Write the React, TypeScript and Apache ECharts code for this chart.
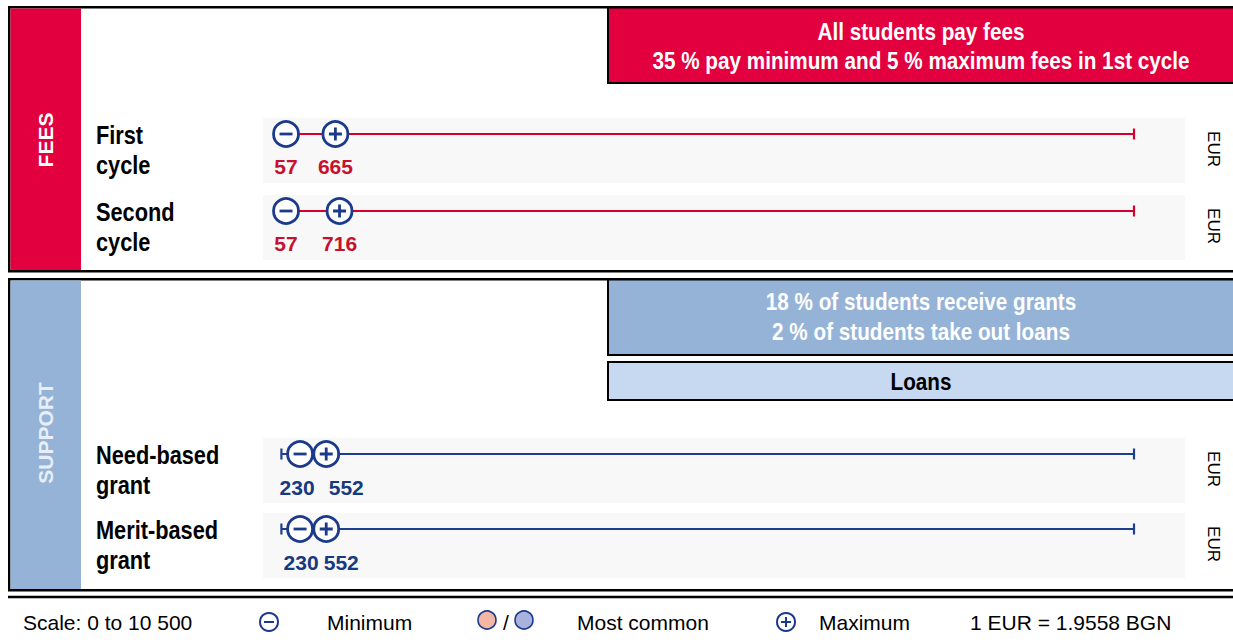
import React, { useEffect, useRef } from 'react';
import * as echarts from 'echarts';

// ---------- DATA ----------
const categories = ['First\ncycle', 'Second\ncycle', 'Need-based\ngrant', 'Merit-based\ngrant'];
const minimums = [57, 57, 230, 230];
const maximums = [665, 716, 552, 552];
const scaleRange = [0, 10500];
const rowSection = [0, 0, 1, 1];
const units = ['EUR', 'EUR', 'EUR', 'EUR'];
const sectionTitles = ['FEES', 'SUPPORT'];
const feesNote = ['All students pay fees', '35 % pay minimum and 5 % maximum fees in 1st cycle'];
const supportNote = ['18 % of students receive grants', '2 % of students take out loans'];
const loansLabel = 'Loans';
const legendTexts = ['Scale: 0 to 10 500', 'Minimum', 'Most common', 'Maximum', '1 EUR = 1.9558 BGN'];

// ---------- LAYOUT / STYLE ----------
const W = 1233;
const H = 642;
const rowY = [134, 211, 454, 529];
const labelOffsets = [
  [[0, 32], [0, 32]],
  [[0, 32], [0, 32]],
  [[-3, 33], [20, 33]],
  [[1, 33], [15, 33]],
];
const SANS = '"Liberation Sans", Arial, sans-serif';
const RED = '#e2003f';
const LINE_RED = '#d6002e';
const NAVY = '#1b3a8c';
const LINE_NAVY = '#1c3f8e';
const LABEL_RED = '#c8102e';
const LABEL_NAVY = '#17397f';
const BLUE = '#95b3d7';
const LIGHT_BLUE = '#c6d9f1';
const sectionColors = [RED, BLUE];
const sectionTextColors = ['#ffffff', '#e8eef7'];
const lineColors = [LINE_RED, LINE_NAVY];
const valueColors = [LABEL_RED, LABEL_NAVY];

const PLUS_PATH = 'path://M0,5.1H13V7.9H0Z M5.1,0H7.9V13H5.1Z';

function buildOption(): any {
  const grids: any[] = [];
  const xAxes: any[] = [];
  const yAxes: any[] = [];
  const series: any[] = [];

  categories.forEach((_, i) => {
    const sec = rowSection[i];
    grids.push({ left: 281.4, width: 852.6, top: rowY[i] - 10, height: 20, containLabel: false });
    xAxes.push({ type: 'value', gridIndex: i, min: scaleRange[0], max: scaleRange[1], show: false });
    yAxes.push({ type: 'value', gridIndex: i, min: 0, max: 1, show: false });
    const common = { xAxisIndex: i, yAxisIndex: i, silent: true, emphasis: { disabled: true }, animation: false };
    series.push({
      ...common,
      type: 'line',
      data: scaleRange.map((v) => [v, 0.5]),
      symbol: 'none',
      lineStyle: { color: lineColors[sec], width: 2.2 },
      z: 1,
    });
    series.push({
      ...common,
      type: 'scatter',
      data: scaleRange.map((v) => [v, 0.5]),
      symbol: 'rect',
      symbolSize: [2.2, 11],
      itemStyle: { color: lineColors[sec], opacity: 1 },
      z: 2,
    });
    const valueLabel = (v: number, off: number[]) => ({
      show: true,
      position: 'inside',
      offset: off,
      formatter: String(v),
      color: valueColors[sec],
      fontSize: 21,
      fontWeight: 'bold',
      fontFamily: SANS,
    });
    series.push({
      ...common,
      type: 'scatter',
      data: [[minimums[i], 0.5]],
      symbol: 'circle',
      symbolSize: 25,
      itemStyle: { color: '#ffffff', borderColor: NAVY, borderWidth: 2.8, opacity: 1 },
      label: valueLabel(minimums[i], labelOffsets[i][0]),
      z: 3,
    });
    series.push({
      ...common,
      type: 'scatter',
      data: [[minimums[i], 0.5]],
      symbol: 'rect',
      symbolSize: [13, 2.8],
      itemStyle: { color: NAVY, opacity: 1 },
      z: 4,
    });
    series.push({
      ...common,
      type: 'scatter',
      data: [[maximums[i], 0.5]],
      symbol: 'circle',
      symbolSize: 25,
      itemStyle: { color: '#ffffff', borderColor: NAVY, borderWidth: 2.8, opacity: 1 },
      label: valueLabel(maximums[i], labelOffsets[i][1]),
      z: 3,
    });
    series.push({
      ...common,
      type: 'scatter',
      data: [[maximums[i], 0.5]],
      symbol: PLUS_PATH,
      symbolSize: 13,
      itemStyle: { color: NAVY, opacity: 1 },
      z: 4,
    });
  });

  const g: any[] = [];
  const panels = [
    { y: 7, h: 264 },
    { y: 279, h: 311 },
  ];
  panels.forEach((p, s) => {
    g.push({ type: 'rect', z: 0, shape: { x: 9.25, y: p.y + 0.25, width: 1240, height: p.h }, style: { fill: '#ffffff', stroke: '#000', lineWidth: 2.5 } });
    g.push({ type: 'rect', z: 0, shape: { x: 10.5, y: p.y + 1.5, width: 70.5, height: p.h - 2.5 }, style: { fill: sectionColors[s] } });
    g.push({
      type: 'text', z: 5, x: 45, y: s === 0 ? 140 : 433, rotation: Math.PI / 2,
      style: { text: sectionTitles[s], fill: sectionTextColors[s], font: `bold 21px ${SANS}`, align: 'center', verticalAlign: 'middle' },
    });
  });
  const headFont = `bold 23px ${SANS}`;
  g.push({ type: 'rect', z: 0, shape: { x: 608, y: 7.5, width: 640, height: 75.5 }, style: { fill: RED, stroke: '#000', lineWidth: 2 } });
  feesNote.forEach((t, k) => g.push({ type: 'text', z: 5, x: 921, y: 32 + k * 29, scaleX: 0.9, style: { text: t, fill: '#fff', font: headFont, align: 'center', verticalAlign: 'middle' } }));
  g.push({ type: 'rect', z: 0, shape: { x: 608, y: 279.5, width: 640, height: 75.5 }, style: { fill: BLUE, stroke: '#000', lineWidth: 2 } });
  supportNote.forEach((t, k) => g.push({ type: 'text', z: 5, x: 921, y: 302 + k * 30, scaleX: 0.9, style: { text: t, fill: '#fff', font: headFont, align: 'center', verticalAlign: 'middle' } }));
  g.push({ type: 'rect', z: 0, shape: { x: 608, y: 362, width: 640, height: 38 }, style: { fill: LIGHT_BLUE, stroke: '#000', lineWidth: 2 } });
  g.push({ type: 'text', z: 5, x: 921, y: 382, scaleX: 0.9, style: { text: loansLabel, fill: '#000', font: headFont, align: 'center', verticalAlign: 'middle' } });

  categories.forEach((c, i) => {
    g.push({ type: 'rect', z: 0, shape: { x: 263, y: rowY[i] - 16, width: 922, height: 65 }, style: { fill: '#f8f8f8' } });
    g.push({ type: 'text', z: 5, x: 96, y: rowY[i] - 14, scaleX: 0.87, style: { text: c, fill: '#000', font: `bold 25px ${SANS}`, lineHeight: 30, align: 'left', verticalAlign: 'top' } });
    g.push({ type: 'text', z: 5, x: 1213, y: rowY[i] + 15, rotation: -Math.PI / 2, style: { text: units[i], fill: '#000', font: `17px ${SANS}`, align: 'center', verticalAlign: 'middle' } });
  });

  g.push({ type: 'line', z: 0, shape: { x1: 8, y1: 597, x2: 1240, y2: 597 }, style: { stroke: '#000', lineWidth: 2.5 } });
  const ly = 622;
  const lfont = `21px ${SANS}`;
  g.push({ type: 'text', z: 5, x: 23, y: ly, style: { text: legendTexts[0], fill: '#000', font: lfont, verticalAlign: 'middle' } });
  g.push({ type: 'circle', z: 5, shape: { cx: 269, cy: ly, r: 9 }, style: { fill: '#fff', stroke: NAVY, lineWidth: 2 } });
  g.push({ type: 'line', z: 6, shape: { x1: 264, y1: ly, x2: 274, y2: ly }, style: { stroke: NAVY, lineWidth: 2 } });
  g.push({ type: 'text', z: 5, x: 327, y: ly, style: { text: legendTexts[1], fill: '#000', font: lfont, verticalAlign: 'middle' } });
  g.push({ type: 'circle', z: 5, shape: { cx: 487, cy: 620, r: 9 }, style: { fill: '#f4b7a3', stroke: NAVY, lineWidth: 1.6 } });
  g.push({ type: 'text', z: 5, x: 506, y: 622, style: { text: '/', fill: '#000', font: lfont, align: 'center', verticalAlign: 'middle' } });
  g.push({ type: 'circle', z: 5, shape: { cx: 524, cy: 620, r: 9 }, style: { fill: '#a9b2dc', stroke: NAVY, lineWidth: 1.6 } });
  g.push({ type: 'text', z: 5, x: 577, y: ly, style: { text: legendTexts[2], fill: '#000', font: lfont, verticalAlign: 'middle' } });
  g.push({ type: 'circle', z: 5, shape: { cx: 786, cy: ly, r: 9 }, style: { fill: '#fff', stroke: NAVY, lineWidth: 2 } });
  g.push({ type: 'line', z: 6, shape: { x1: 781, y1: ly, x2: 791, y2: ly }, style: { stroke: NAVY, lineWidth: 2 } });
  g.push({ type: 'line', z: 6, shape: { x1: 786, y1: ly - 5, x2: 786, y2: ly + 5 }, style: { stroke: NAVY, lineWidth: 2 } });
  g.push({ type: 'text', z: 5, x: 819, y: ly, style: { text: legendTexts[3], fill: '#000', font: lfont, verticalAlign: 'middle' } });
  g.push({ type: 'text', z: 5, x: 970, y: ly, style: { text: legendTexts[4], fill: '#000', font: lfont, verticalAlign: 'middle' } });

  return {
    animation: false,
    backgroundColor: '#ffffff',
    grid: grids,
    xAxis: xAxes,
    yAxis: yAxes,
    series,
    graphic: { elements: g },
  };
}

export default function App() {
  const ref = useRef<HTMLDivElement>(null);
  useEffect(() => {
    document.body.style.margin = '0';
    if (!ref.current) return;
    const chart = echarts.init(ref.current, undefined, { renderer: 'svg' });
    chart.setOption(buildOption());
    return () => chart.dispose();
  }, []);
  return <div ref={ref} style={{ width: W, height: H }} />;
}
